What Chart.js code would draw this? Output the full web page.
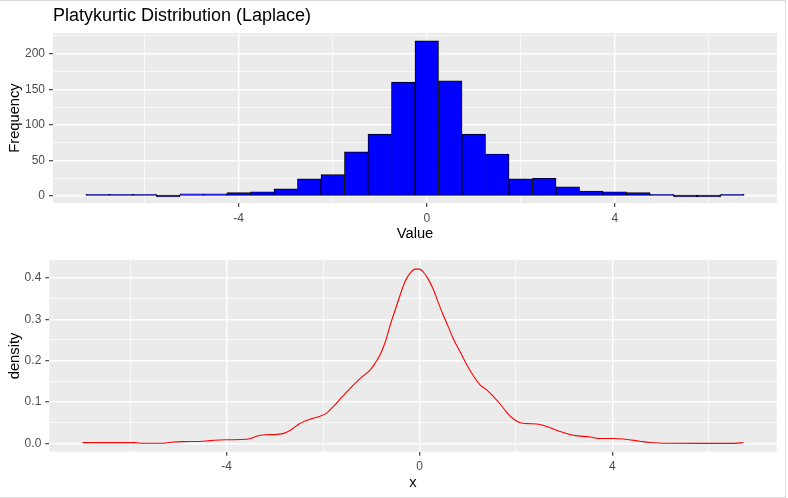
<!DOCTYPE html>
<html>
<head>
<meta charset="utf-8">
<title>Platykurtic Distribution (Laplace)</title>
<script src="https://cdn.jsdelivr.net/npm/chart.js@4.4.1/dist/chart.umd.min.js"></script>
<style>
    html, body { margin: 0; padding: 0; background: #ffffff; }
    #page { position: relative; width: 788px; height: 498px; overflow: hidden; }
    #frame {
        position: absolute; left: 0; top: 0; width: 786px; height: 498px;
        box-sizing: border-box;
        border-top: 1px solid #dcdcdc; border-right: 1px solid #dcdcdc; border-bottom: 1px solid #dcdcdc;
    }
    .panel { position: absolute; left: 0; width: 788px; height: 249px; }
    .panel canvas { display: block; }
    #hist-box { top: 0; }
    #dens-box { top: 249px; }
</style>
</head>
<body>
<div id="page">
    <div id="frame"></div>
    <div class="panel" id="hist-box"><canvas id="hist" width="788" height="249"></canvas></div>
    <div class="panel" id="dens-box"><canvas id="dens" width="788" height="249"></canvas></div>
</div>
<script>
// histogram: bins of width 0.5, centred on these values
const binCenters = [-7, -6.5, -6, -5.5, -5, -4.5, -4, -3.5, -3, -2.5, -2, -1.5, -1, -0.5,
    0, 0.5, 1, 1.5, 2, 2.5, 3, 3.5, 4, 4.5, 5, 5.5, 6, 6.5];
const binCounts = [1, 1, 1, 0, 3, 3, 5, 6, 10, 24, 30, 62, 87, 160,
    218, 162, 87, 59, 24, 25, 13, 7, 6, 5, 2, 0, 0, 2];

// kernel density estimate
const densityX = [-6.99, -6.4, -5.9, -5.75, -5.35, -5.15, -4.9, -4.55, -4.35, -4.0,
    -3.7, -3.5, -3.37, -3.2, -2.95, -2.8, -2.68, -2.5, -2.36, -2.23,
    -2.06, -1.92, -1.78, -1.61, -1.44, -1.23, -1.02, -0.92, -0.815, -0.71,
    -0.61, -0.5, -0.4, -0.3, -0.19, -0.09, 0, 0.08, 0.19, 0.29,
    0.39, 0.5, 0.6, 0.7, 0.84, 0.98, 1.12, 1.26, 1.4, 1.53,
    1.67, 1.81, 1.95, 2.09, 2.25, 2.43, 2.64, 2.92, 3.19, 3.54,
    3.75, 4.0, 4.23, 4.57, 4.78, 5.2, 5.8, 6.54, 6.72];
const densityY = [0.002, 0.002, 0.002, 0.0005, 0.0005, 0.003, 0.0045, 0.005, 0.007, 0.009,
    0.0095, 0.012, 0.018, 0.021, 0.022, 0.025, 0.032, 0.047, 0.055, 0.060,
    0.066, 0.074, 0.090, 0.112, 0.133, 0.157, 0.178, 0.194, 0.215, 0.245,
    0.285, 0.324, 0.359, 0.391, 0.412, 0.421, 0.421, 0.414, 0.395, 0.371,
    0.340, 0.308, 0.281, 0.253, 0.222, 0.190, 0.163, 0.141, 0.129, 0.114,
    0.096, 0.075, 0.059, 0.050, 0.048, 0.047, 0.041, 0.029, 0.020, 0.0157,
    0.012, 0.012, 0.011, 0.0055, 0.0023, 0.0005, 0.0003, 0.0003, 0.0023];

// ticks (major get labels, minor only a thin grid line)
const xMajor = [-4, 0, 4];
const xMinor = [-6, -2, 2, 6];
const xLabels = ["-4", "0", "4"];
const histYMajor = [0, 50, 100, 150, 200];
const histYMinor = [25, 75, 125, 175, 225];
const histYLabels = ["0", "50", "100", "150", "200"];
const densYMajor = [0, 0.1, 0.2, 0.3, 0.4];
const densYMinor = [0.05, 0.15, 0.25, 0.35];
const densYLabels = ["0.0", "0.1", "0.2", "0.3", "0.4"];

const chartTitle = "Platykurtic Distribution (Laplace)";
const FONT = "Arial, 'Liberation Sans', Helvetica, sans-serif";

const panelBackground = {
    id: "panelBackground",
    beforeDraw(chart) {
        const {ctx, chartArea} = chart;
        ctx.save();
        ctx.fillStyle = "#EBEBEB";
        ctx.fillRect(chartArea.left, chartArea.top, chartArea.right - chartArea.left, chartArea.bottom - chartArea.top);
        ctx.restore();
    }
};

function ggAxis(range, major, minor, labels, size, title, titlePad) {
    const all = major.concat(minor).sort((a, b) => a - b);
    const isMajor = v => major.indexOf(v) >= 0;
    return {
        type: "linear",
        min: range[0],
        max: range[1],
        offset: false,
        afterBuildTicks: s => { s.ticks = all.map(v => ({value: v})); },
        afterFit: s => {
            if (s.isHorizontal()) s.height = size;
            else s.width = size;
        },
        ticks: {
            autoSkip: false,
            maxRotation: 0,
            padding: 4,
            color: "#4D4D4D",
            font: {family: FONT, size: 12},
            callback: v => {
                const i = major.indexOf(v);
                return i < 0 ? "" : labels[i];
            }
        },
        grid: {
            offset: false,
            color: "#FFFFFF",
            lineWidth: c => (c.tick && isMajor(c.tick.value)) ? 1.4 : 0.7,
            tickColor: c => (c.tick && isMajor(c.tick.value)) ? "#333333" : "rgba(0,0,0,0)",
            tickLength: 4,
            tickWidth: 1.1
        },
        border: {display: false},
        title: {
            display: true,
            text: title,
            color: "#000000",
            font: {family: FONT, size: 14.7},
            padding: titlePad
        }
    };
}

function drawHistogram() {
    const ctx = document.getElementById("hist").getContext("2d");
    new Chart(ctx, {
        type: "bar",
        data: {
            datasets: [{
                data: binCenters.map((c, i) => ({x: c, y: binCounts[i]})),
                backgroundColor: "#0000FF",
                borderColor: "#000000",
                borderWidth: 0.9,
                borderSkipped: false,
                minBarLength: 1.8,
                barPercentage: 1,
                categoryPercentage: 1
            }]
        },
        options: {
            responsive: false,
            animation: false,
            layout: {padding: {left: 0, right: 11, top: 0, bottom: 0}},
            plugins: {
                legend: {display: false},
                tooltip: {enabled: false},
                title: {
                    display: true,
                    text: chartTitle,
                    align: "start",
                    fullSize: false,
                    color: "#000000",
                    font: {family: FONT, size: 18, weight: "normal"},
                    padding: {top: 5.6, bottom: 5.8}
                }
            },
            scales: {
                x: ggAxis([-7.95, 7.45], xMajor, xMinor, xLabels, 46, "Value", {top: 0, bottom: 6.6}),
                y: ggAxis([-9.8, 229.1], histYMajor, histYMinor, histYLabels, 53, "Frequency", {top: 6.6, bottom: 0})
            }
        },
        plugins: [panelBackground]
    });
}

function drawDensity() {
    const ctx = document.getElementById("dens").getContext("2d");
    new Chart(ctx, {
        type: "line",
        data: {
            datasets: [{
                data: densityX.map((x, i) => ({x: x, y: densityY[i]})),
                borderColor: "#FF0000",
                borderWidth: 1.1,
                pointRadius: 0,
                fill: false,
                cubicInterpolationMode: "monotone"
            }]
        },
        options: {
            responsive: false,
            animation: false,
            layout: {padding: {left: 0, right: 11.3, top: 7, bottom: 0}},
            plugins: {
                legend: {display: false},
                tooltip: {enabled: false}
            },
            scales: {
                x: ggAxis([-7.68, 7.41], xMajor, xMinor, xLabels, 46.3, "x", {top: 0, bottom: 6.4}),
                y: ggAxis([-0.0198, 0.4425], densYMajor, densYMinor, densYLabels, 49.3, "density", {top: 6.6, bottom: 0})
            }
        },
        plugins: [panelBackground]
    });
}

drawHistogram();
drawDensity();
</script>
</body>
</html>
